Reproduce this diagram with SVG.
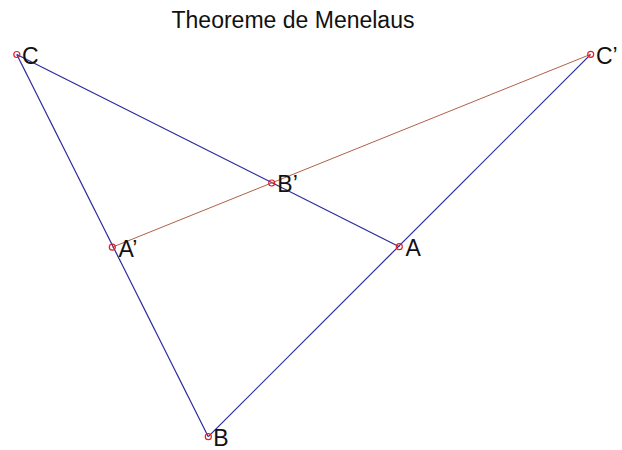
<svg xmlns="http://www.w3.org/2000/svg" width="622" height="450" viewBox="0 0 622 450">
<style>
.side{stroke:#2b2b9c;stroke-width:1.2;fill:none}
.trans{stroke:#b0604a;stroke-width:1;fill:none}
.pt{stroke:#e0202a;stroke-width:1.2;fill:none}
text{font-family:"Liberation Sans",Arial,sans-serif;font-size:23px;fill:#111}
</style>
<rect width="622" height="450" fill="#fff"/>
<text x="293" y="27.5" text-anchor="middle">Theoreme de Menelaus</text>
<g id="connectors">
<line class="side" x1="16.8" y1="54.5" x2="208.3" y2="436.7"/>
<line class="side" x1="16.8" y1="54.5" x2="399.3" y2="246.7"/>
<line class="side" x1="208.3" y1="436.7" x2="590.7" y2="54.3"/>
<line class="trans" x1="112.3" y1="247.2" x2="590.7" y2="54.3"/>
</g>
<g id="C"><circle class="pt" cx="16.8" cy="54.5" r="3"/><text x="22" y="64">C</text></g>
<g id="Cp"><circle class="pt" cx="590.7" cy="54.3" r="3"/><text x="596" y="64">C’</text></g>
<g id="Bp"><circle class="pt" cx="271.7" cy="183" r="3"/><text x="277.3" y="192">B’</text></g>
<g id="Ap"><circle class="pt" cx="112.3" cy="247.2" r="3"/><text x="118.5" y="256.5">A’</text></g>
<g id="A"><circle class="pt" cx="399.3" cy="246.7" r="3"/><text x="405.5" y="256">A</text></g>
<g id="B"><circle class="pt" cx="208.3" cy="436.7" r="3"/><text x="213.3" y="445.5">B</text></g>
</svg>
